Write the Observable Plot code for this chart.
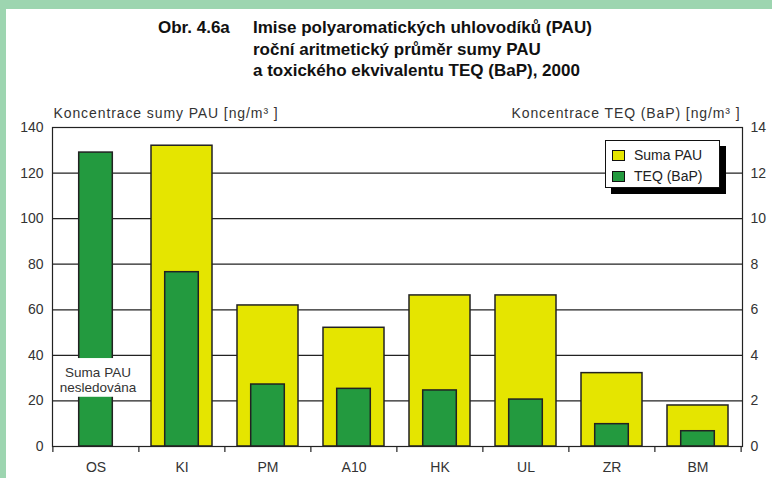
<!DOCTYPE html>
<html>
<head>
<meta charset="utf-8">
<script src="https://cdn.jsdelivr.net/npm/d3@7"></script>
<script src="https://cdn.jsdelivr.net/npm/@observablehq/plot@0.6"></script>
<style>
  html, body { margin: 0; padding: 0; background: #fff; }
  #page { position: relative; width: 772px; height: 478px; overflow: hidden; background: #fff;
          font-family: "Liberation Sans", Arial, sans-serif; color: #222; }
  #bandTop { position: absolute; left: 0; top: 0; width: 772px; height: 9px; background: #9dd5b0; }
  #bandLeft { position: absolute; left: 0; top: 0; width: 6px; height: 478px; background: #9dd5b0; }
  #title { position: absolute; left: 158px; top: 17px; font-weight: bold; font-size: 17px; line-height: 21.5px;
           display: flex; color: #111; white-space: nowrap; }
  #title .lead { width: 95px; }
  #chart { position: absolute; left: 6px; top: 90px; }
  #legend { position: absolute; left: 605px; top: 140px; width: 113px; height: 46px; background: #fff;
            border: 1px solid #111; box-shadow: 6px 6px 0 #000; font-size: 14px; color: #222; }
  .item { position: absolute; left: 6px; display: flex; align-items: center; gap: 9px; }
  .sw { width: 11px; height: 9px; border: 1px solid #111; }
</style>
</head>
<body>
<div id="page">
  <div id="bandTop"></div>
  <div id="bandLeft"></div>
  <div id="title">
    <div class="lead">Obr. 4.6a</div>
    <div>Imise polyaromatických uhlovodíků (PAU)<br>roční aritmetický průměr sumy PAU<br>a toxického ekvivalentu TEQ (BaP), 2000</div>
  </div>
  <div id="chart"></div>
  <div id="legend">
    <div class="item" style="top:6px"><div class="sw" style="background:#e5e500"></div><span>Suma PAU</span></div>
    <div class="item" style="top:27px"><div class="sw" style="background:#239a3f"></div><span>TEQ (BaP)</span></div>
  </div>
</div>
<script>
const stations = ["OS", "KI", "PM", "A10", "HK", "UL", "ZR", "BM"];
const sumaPAU = [null, 132, 61.9, 52.1, 66.3, 66.3, 32.2, 18.0];   // ng/m3, left axis
const teqBaP  = [12.9, 7.65, 2.72, 2.53, 2.46, 2.06, 0.98, 0.67];   // ng/m3, right axis
const leftTicks  = [0, 20, 40, 60, 80, 100, 120, 140];
const rightTicks = [0, 2, 4, 6, 8, 10, 12, 14];
const leftTitle  = "Koncentrace sumy PAU [ng/m³ ]";
const rightTitle = "Koncentrace TEQ (BaP) [ng/m³ ]";
const noteText   = "Suma PAU\nnesledována";
const ratio = 10; // left scale / right scale

const rows = stations.map((s, i) => ({station: s, pau: sumaPAU[i], teq: teqBaP[i]}));
const step = 690 / stations.length;

const chart = Plot.plot({
  width: 766, height: 388,
  marginLeft: 46, marginRight: 30, marginTop: 37, marginBottom: 32,
  style: {fontFamily: "'Liberation Sans', Arial, sans-serif", fontSize: "14px", color: "#333", background: "transparent", overflow: "visible"},
  x: {domain: stations, paddingInner: 0.29, paddingOuter: 0.145, label: null},
  y: {domain: [0, 140], label: null},
  marks: [
    Plot.ruleY(leftTicks.filter(d => d > 0), {stroke: "#222", strokeWidth: 1.2}),
    Plot.barY(rows.filter(d => d.pau != null), {x: "station", y: "pau", fill: "#e5e500", stroke: "#222", strokeWidth: 1.5}),
    Plot.barY(rows, {x: "station", y: d => d.teq * ratio, fill: "#239a3f", stroke: "#222", strokeWidth: 1.5, insetLeft: 13.7, insetRight: 13.7}),
    Plot.barY([{station: "OS", lo: 21.6, hi: 38.6}], {x: "station", y1: "lo", y2: "hi", fill: "white", insetLeft: -11.5, insetRight: -15}),
    Plot.text([{station: "OS", v: 29.5, t: noteText}], {x: "station", y: "v", text: "t", fontSize: 13.5, fill: "#333", dx: 2, lineHeight: 1.15}),
    Plot.ruleY([0], {stroke: "#222", strokeWidth: 1.2}),
    Plot.ruleX(stations, {x: d => d, y1: 0, y2: -2.6, dx: -step / 2, stroke: "#222", strokeWidth: 1.2}),
    Plot.ruleX([stations[stations.length - 1]], {x: d => d, y1: 0, y2: -2.6, dx: step / 2, stroke: "#222", strokeWidth: 1.2}),
    Plot.frame({stroke: "#222", strokeWidth: 1.2}),
    Plot.axisY(leftTicks, {anchor: "left", tickSize: 0, tickPadding: 9, label: null, fill: "#333"}),
    Plot.axisY(rightTicks.map(d => d * ratio), {anchor: "right", tickSize: 0, tickPadding: 8, tickFormat: d => d / ratio, label: null, fill: "#333"}),
    Plot.axisX({tickSize: 0, tickPadding: 16, label: null, fill: "#333"}),
    Plot.text([leftTitle], {frameAnchor: "top-left", text: d => d, textAnchor: "start", lineAnchor: "bottom", dx: 1, dy: -10, fontSize: 14, fill: "#333"}),
    Plot.text([rightTitle], {frameAnchor: "top-right", text: d => d, textAnchor: "end", lineAnchor: "bottom", dx: -2, dy: -10, fontSize: 14, fill: "#333"})
  ]
});
d3.select(chart).selectAll("text").filter(function() { return this.textContent.startsWith("Koncentrace"); })
  .attr("letter-spacing", "0.9px");
document.getElementById("chart").appendChild(chart);
</script>
</body>
</html>
